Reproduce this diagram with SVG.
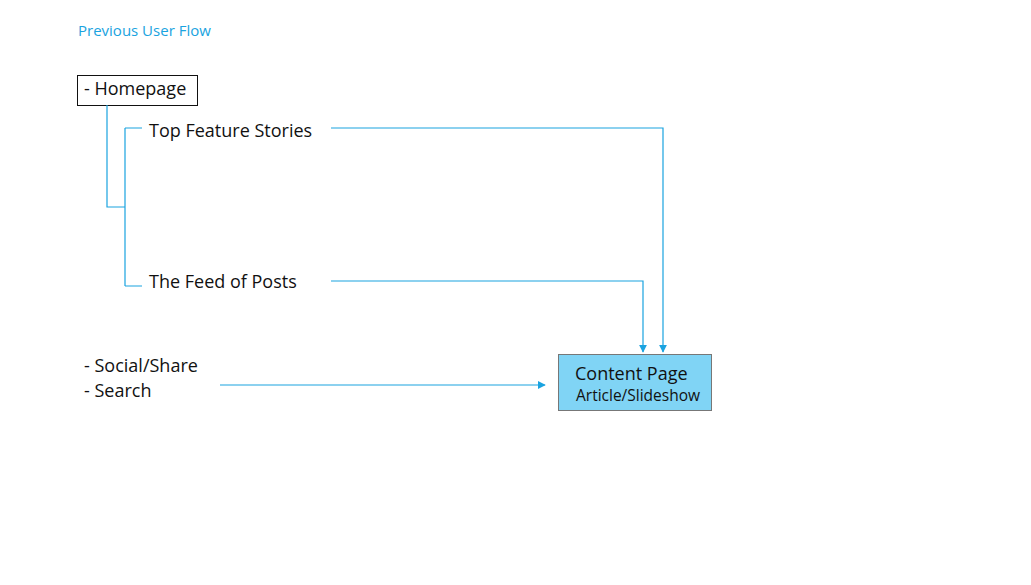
<svg xmlns="http://www.w3.org/2000/svg" width="1031" height="585" viewBox="0 0 1031 585">
<style>
text{font-family:"Open Sans","Liberation Sans",sans-serif;fill:#111}
.c{fill:none;stroke:#1aa3e0;stroke-width:1.2}
</style>
<defs><marker id="a" viewBox="0 0 10 10" refX="9" refY="5" markerWidth="8" markerHeight="8" markerUnits="userSpaceOnUse" orient="auto"><path d="M0,0L10,5L0,10z" fill="#1aa3e0"/></marker></defs>
<rect width="1031" height="585" fill="#fff"/>
<text x="78" y="36" font-size="15" style="fill:#1aa3e0">Previous User Flow</text>
<g id="homepage"><rect x="77.5" y="75.5" width="120" height="30" fill="#fff" stroke="#111"/><text x="84" y="95" font-size="18">- Homepage</text></g>
<g id="top"><text x="149" y="137" font-size="18">Top Feature Stories</text></g>
<g id="feed"><text x="149" y="288" font-size="18">The Feed of Posts</text></g>
<g id="social"><text x="84" y="372" font-size="18">- Social/Share</text><text x="84" y="397" font-size="18">- Search</text></g>
<g id="content"><rect x="558.5" y="354.5" width="153" height="56" fill="#80d4f5" stroke="#777"/><text x="575" y="380" font-size="18">Content Page</text><text x="576" y="401" font-size="15.5">Article/Slideshow</text></g>
<g id="connectors">
<path class="c" d="M107,105V207H125M125,128V286M125,128H142M125,286H142"/>
<path class="c" d="M331,128H663V352" marker-end="url(#a)"/>
<path class="c" d="M331,281H643V352" marker-end="url(#a)"/>
<path class="c" d="M220,385H545" marker-end="url(#a)"/>
</g>
</svg>
